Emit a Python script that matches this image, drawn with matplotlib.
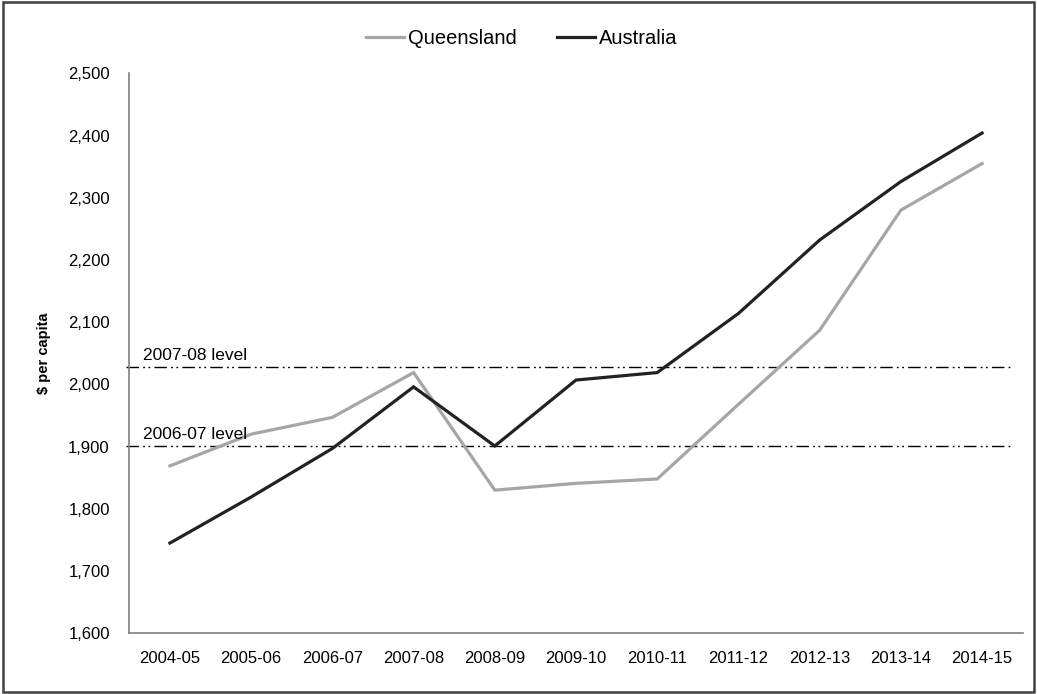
import matplotlib.pyplot as plt
from matplotlib.patches import Rectangle
from matplotlib.ticker import FuncFormatter

plt.rcParams['font.family'] = ['Liberation Sans', 'DejaVu Sans']

years = ['2004-05', '2005-06', '2006-07', '2007-08', '2008-09', '2009-10',
         '2010-11', '2011-12', '2012-13', '2013-14', '2014-15']
queensland = [1869, 1920, 1947, 2019, 1830, 1841, 1848, 1968, 2087, 2280, 2355]
australia = [1745, 1819, 1897, 1996, 1901, 2007, 2019, 2114, 2232, 2326, 2404]

# reference levels drawn as dash-dot lines
level_names = ['2007-08 level', '2006-07 level']
level_values = [2028, 1901]

fig = plt.figure(figsize=(10.37, 6.94), dpi=100)
ax = fig.add_axes([0.1247, 0.0875, 0.9862 - 0.1247, 0.8944 - 0.0875])

x = list(range(len(years)))
ax.plot(x, queensland, color='#a6a6a6', lw=2.3, label='Queensland', solid_joinstyle='miter')
ax.plot(x, australia, color='#222222', lw=2.3, label='Australia', solid_joinstyle='miter')

for name, val in zip(level_names, level_values):
    ax.plot([-0.54, 10.34], [val, val], color='black', lw=1,
            dashes=(9, 3, 1.3, 2.5, 1.3, 3), clip_on=False, zorder=1)
    ax.text(-0.33, val + 7, name, fontsize=12.5, ha='left', va='bottom')

ax.set_xlim(-0.5, 10.5)
ax.set_ylim(1600, 2500)
ax.set_xticks(x)
ax.set_xticklabels(years)
ax.set_yticks(range(1600, 2501, 100))
ax.yaxis.set_major_formatter(FuncFormatter(lambda v, p: f'{int(v):,}'))
ax.tick_params(axis='both', length=0, labelsize=12)
ax.tick_params(axis='x', pad=13)
ax.tick_params(axis='y', pad=14)

for s in ['top', 'right']:
    ax.spines[s].set_visible(False)
for s in ['left', 'bottom']:
    ax.spines[s].set_color('#808080')
    ax.spines[s].set_linewidth(1.2)

ax.set_ylabel('$ per capita', fontsize=10.5, fontweight='bold', labelpad=12)

fig.legend(loc='center', bbox_to_anchor=(0.503, 0.945), ncol=2, frameon=False,
           fontsize=14.5, handlelength=1.9, handletextpad=0.2, columnspacing=2.0)

# outer frame
fig.patches.append(Rectangle((0.003, 0.003), 0.994, 0.994, transform=fig.transFigure,
                             fill=False, edgecolor='#404040', lw=1.8))

fig.savefig('out.png', dpi=100)
